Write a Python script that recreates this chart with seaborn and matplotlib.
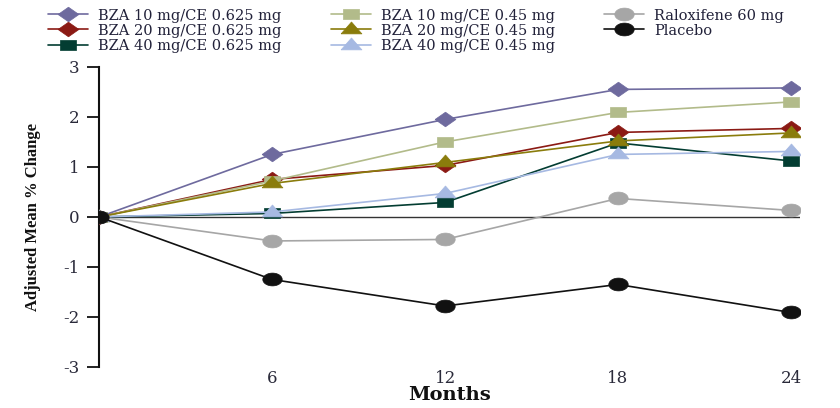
import matplotlib
matplotlib.use("Agg")
import matplotlib.pyplot as plt
import seaborn as sns
import pandas as pd
import numpy as np
from matplotlib.lines import Line2D

months = [0, 6, 12, 18, 24]
series_names = [
    "BZA 10 mg/CE 0.625 mg",
    "BZA 20 mg/CE 0.625 mg",
    "BZA 40 mg/CE 0.625 mg",
    "BZA 10 mg/CE 0.45 mg",
    "BZA 20 mg/CE 0.45 mg",
    "BZA 40 mg/CE 0.45 mg",
    "Raloxifene 60 mg",
    "Placebo",
]
bza10_0625 = [0, 1.25, 1.95, 2.55, 2.58]
bza20_0625 = [0, 0.75, 1.03, 1.69, 1.77]
bza40_0625 = [0, 0.07, 0.29, 1.48, 1.12]
bza10_045 = [0, 0.72, 1.50, 2.09, 2.30]
bza20_045 = [0, 0.67, 1.09, 1.52, 1.68]
bza40_045 = [0, 0.10, 0.47, 1.25, 1.31]
raloxifene = [0, -0.48, -0.45, 0.37, 0.13]
placebo = [0, -1.25, -1.78, -1.35, -1.91]
values = [bza10_0625, bza20_0625, bza40_0625, bza10_045, bza20_045, bza40_045, raloxifene, placebo]

colors = ["#6E6A9E", "#8B1A14", "#033D32", "#B2BB8A", "#8A7C0C", "#A6B9E2", "#A6A6A6", "#111111"]

# horizontally widened marker shapes (the reference art is stretched)
wide_diamond = [(-1.0, 0.0), (0.0, 0.7), (1.0, 0.0), (0.0, -0.7), (-1.0, 0.0)]
wide_square = [(-1.0, -0.62), (1.0, -0.62), (1.0, 0.62), (-1.0, 0.62), (-1.0, -0.62)]
wide_triangle = [(-1.0, -0.42), (1.0, -0.42), (0.0, 0.72), (-1.0, -0.42)]
th = np.linspace(0, 2 * np.pi, 40)
wide_circle = list(zip(np.cos(th), 0.66 * np.sin(th)))
markers = [wide_diamond, wide_diamond, wide_square, wide_square,
           wide_triangle, wide_triangle, wide_circle, wide_circle]
msizes = [15, 15, 11.5, 11.5, 15, 15, 14, 14]
# draw order so the overlaps look like the reference
order = [6, 7, 5, 2, 4, 3, 1, 0]

rows = []
for name, vals in zip(series_names, values):
    for m, v in zip(months, vals):
        rows.append({"Months": m, "Change": v, "Series": name})
df = pd.DataFrame(rows)

sns.set_theme(style="ticks")
plt.rcParams["font.family"] = ["DejaVu Serif", "Liberation Serif"]
plt.rcParams["axes.unicode_minus"] = False

fig = plt.figure(figsize=(8.4, 4.08), dpi=100)
ax = fig.add_axes([0.118, 0.1005, 0.834, 0.7355])

ax.axhline(0, color="#333333", lw=1.0, zorder=1)

for i in order:
    name = series_names[i]
    sub = df[df["Series"] == name]
    sns.lineplot(data=sub, x="Months", y="Change", ax=ax, color=colors[i],
                 marker=markers[i], markersize=msizes[i],
                 markeredgecolor=colors[i], markeredgewidth=0.5,
                 lw=1.2, legend=False, zorder=3 + i)

ax.set_xlim(0, 24.3)
ax.set_ylim(-3, 3)
ax.set_yticks([-3, -2, -1, 0, 1, 2, 3])
ax.set_xticks([6, 12, 18, 24])
ax.tick_params(axis="x", length=0, labelsize=12, pad=2.5, colors="#2a2a3a")
ax.tick_params(axis="y", length=8.6, direction="out", labelsize=12, pad=5.5,
               colors="#111111", width=1.3, labelcolor="#2a2a3a")
for s in ["top", "right", "bottom"]:
    ax.spines[s].set_visible(False)
ax.spines["left"].set_linewidth(1.5)
ax.spines["left"].set_color("#111111")

ax.set_xlabel("Months", fontsize=14, fontweight="bold", labelpad=-1, color="#111111")
ax.set_ylabel("Adjusted Mean % Change", fontsize=12, fontweight="bold",
              family="Liberation Serif", labelpad=16, color="#111111")

leg_handles = [Line2D([], [], color=colors[i], marker=markers[i], markersize=msizes[i],
                      lw=1.2, markeredgecolor=colors[i], markeredgewidth=0.5)
               for i in range(8)]
leg = fig.legend(leg_handles, series_names, ncol=3, loc="upper left",
                 bbox_to_anchor=(48 / 840, 0.979), frameon=False, fontsize=10.5,
                 handlelength=2.74, handletextpad=0.68, columnspacing=3.4,
                 labelspacing=0.07, borderaxespad=0.0, borderpad=0.0)
for t in leg.get_texts():
    t.set_color("#22223a")

fig.savefig("out.png", dpi=100)
